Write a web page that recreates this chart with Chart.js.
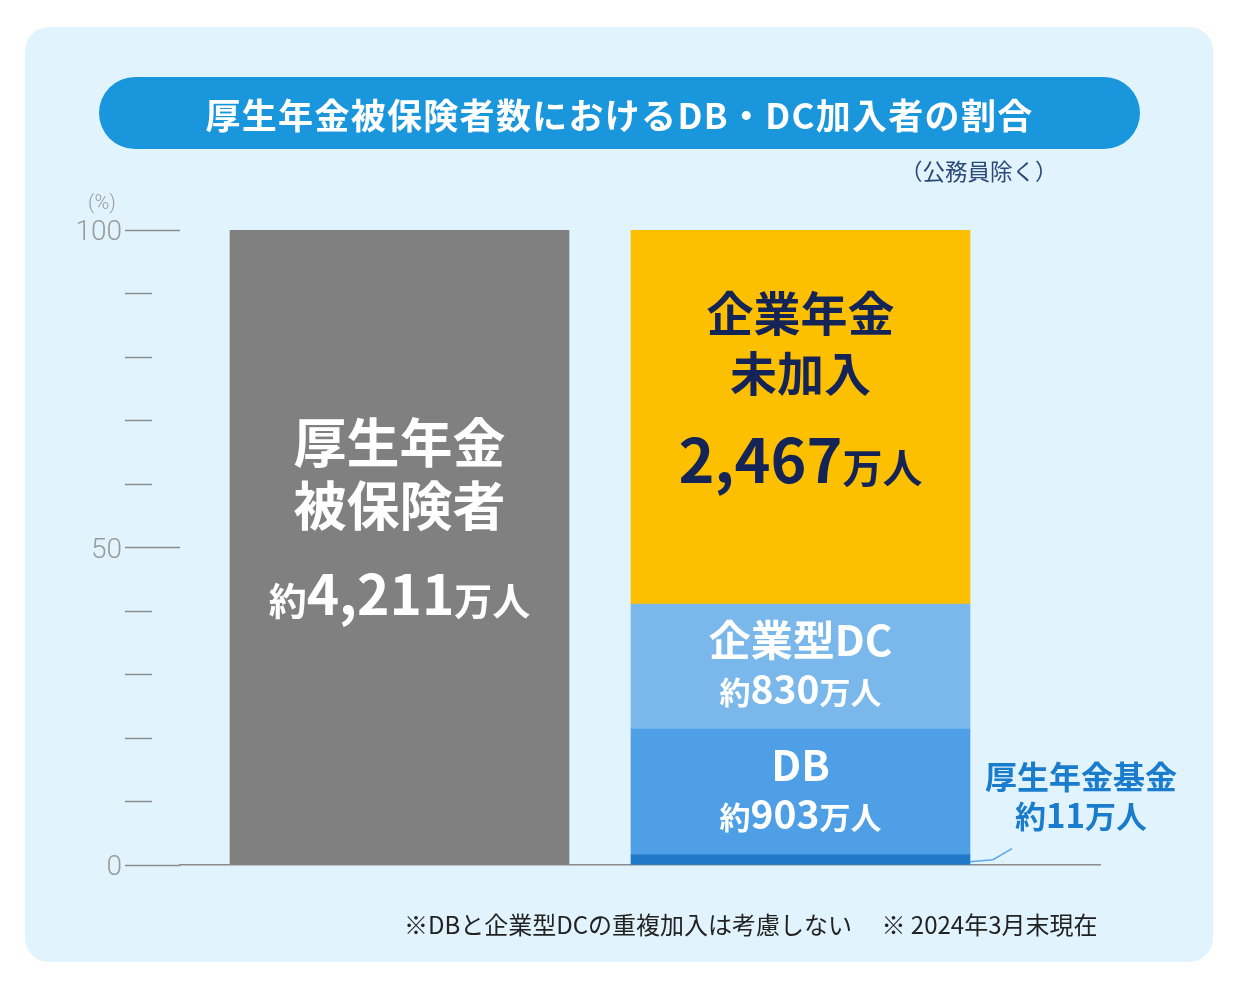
<!DOCTYPE html>
<html lang="ja">
<head>
<meta charset="utf-8">
<script src="https://cdn.jsdelivr.net/npm/chart.js@4.4.1/dist/chart.umd.min.js"></script>
<style>
  html, body { margin:0; padding:0; background:#ffffff; }
  #wrap { position:relative; width:1239px; height:990px; overflow:hidden; }
  #panel { position:absolute; left:25px; top:27px; width:1188px; height:935px; border-radius:24px; background:#e1f3fd; }
  #c { position:absolute; left:0; top:0; }
  #title { position:absolute; left:99px; top:77px; width:1041px; height:72px; border-radius:36px; background:#1a96dc;
           color:#fff; font-family:"Noto Sans CJK JP", sans-serif; font-weight:700; font-size:35px; letter-spacing:1.3px;
           display:flex; align-items:center; justify-content:center; }
  #sub { position:absolute; left:900px; top:154px; font-family:"Noto Sans CJK JP", sans-serif; font-size:22.5px; color:#2c4a78; }
  #pct { position:absolute; left:88px; top:190px; font-family:Roboto, sans-serif; font-weight:300; font-size:20px; color:#9a9a9a; }
  #note { position:absolute; left:404px; top:906px; font-family:"Noto Sans CJK JP", sans-serif; font-size:24px; color:#222; letter-spacing:0px; white-space:pre; }
</style>
</head>
<body>
<div id="wrap">
  <div id="panel"></div>
  <canvas id="c" width="1239" height="990"></canvas>
  <div id="title">厚生年金被保険者数におけるDB・DC加入者の割合</div>
  <div id="sub">（公務員除く）</div>
  <div id="pct">(%)</div>
  <div id="note">※DBと企業型DCの重複加入は考慮しない　 ※ 2024年3月末現在</div>
</div>
<script>
// ---- data ----
const categories = ['厚生年金被保険者', '企業年金加入状況'];
const insuredPct = [100];
const insuredPeople = ['4,211'];
const segmentNames = ['厚生年金基金', 'DB', '企業型DC', '企業年金未加入'];
const segmentPct = [1.6, 19.8, 19.7, 58.9];
const segmentPeople = ['11', '903', '830', '2,467'];
const yTickLabels = [0, 50, 100];

const segColors = ['#1f78c8', '#4e9fe6', '#7ab8ec', '#fdc000'];
const FONT = '"Noto Sans CJK JP", sans-serif';

const datasets = [{
  label: categories[0],
  data: [{ x: 0, y: insuredPct[0] }],
  backgroundColor: '#808080'
}];
segmentNames.forEach((n, i) => {
  datasets.push({
    label: n,
    data: [{ x: 1, y: segmentPct[i] }],
    backgroundColor: segColors[i]
  });
});

function drawMixed(ctx, parts, cx, y, color) {
  let total = 0;
  parts.forEach(p => { ctx.font = `${p.w || 700} ${p.s}px ${FONT}`; p.width = ctx.measureText(p.t).width; total += p.width; });
  let x = cx - total / 2;
  ctx.fillStyle = color;
  ctx.textAlign = 'left';
  ctx.textBaseline = 'alphabetic';
  parts.forEach(p => { ctx.font = `${p.w || 700} ${p.s}px ${FONT}`; ctx.fillText(p.t, x, y); x += p.width; });
}
function drawLine(ctx, t, size, cx, y, color) {
  drawMixed(ctx, [{ t, s: size }], cx, y, color);
}

const labelPlugin = {
  id: 'barLabels',
  afterDatasetsDraw(chart) {
    const ctx = chart.ctx;
    ctx.save();
    // insured bar
    const g = chart.getDatasetMeta(0).data[0];
    const gc = (g.y + g.base) / 2;
    drawLine(ctx, '厚生年金', 53, g.x, gc - 84, '#ffffff');
    drawLine(ctx, '被保険者', 53, g.x, gc - 21, '#ffffff');
    drawMixed(ctx, [{ t: '約', s: 38 }, { t: insuredPeople[0], s: 55 }, { t: '万人', s: 38 }], g.x, gc + 68, '#ffffff');

    // segments
    const m = i => chart.getDatasetMeta(i + 1).data[0];
    const y3 = m(3), c3 = (y3.y + y3.base) / 2;
    drawLine(ctx, '企業年金', 47, y3.x, c3 - 86, '#152456');
    drawLine(ctx, '未加入', 47, y3.x, c3 - 26, '#152456');
    drawMixed(ctx, [{ t: segmentPeople[3], s: 61 }, { t: '万人', s: 40 }], y3.x, c3 + 66, '#152456');

    const d2 = m(2), c2 = (d2.y + d2.base) / 2;
    drawLine(ctx, '企業型DC', 42, d2.x, c2 - 11, '#ffffff');
    drawMixed(ctx, [{ t: '約', s: 31 }, { t: segmentPeople[2], s: 39 }, { t: '万人', s: 31 }], d2.x, c2 + 37, '#ffffff');

    const d1 = m(1), c1 = (d1.y + d1.base) / 2;
    drawLine(ctx, 'DB', 42, d1.x, c1 - 11, '#ffffff');
    drawMixed(ctx, [{ t: '約', s: 31 }, { t: segmentPeople[1], s: 39 }, { t: '万人', s: 31 }], d1.x, c1 + 37, '#ffffff');

    // fund callout
    const f = m(0);
    const right = f.x + f.width / 2;
    const fy = (f.y + f.base) / 2;
    ctx.strokeStyle = '#5aa9e6';
    ctx.lineWidth = 1.5;
    ctx.beginPath();
    ctx.moveTo(right, fy + 2);
    ctx.lineTo(right + 23, fy);
    ctx.lineTo(right + 42, fy - 11);
    ctx.stroke();
    const lx = right + 111;
    drawLine(ctx, segmentNames[0], 32, lx, f.base - 76, '#1a7ccc');
    drawMixed(ctx, [{ t: '約', s: 31 }, { t: segmentPeople[0], s: 33 }, { t: '万人', s: 31 }], lx, f.base - 37, '#1a7ccc');
    ctx.restore();
  }
};

new Chart(document.getElementById('c'), {
  type: 'bar',
  data: { datasets },
  plugins: [labelPlugin],
  options: {
    responsive: false,
    animation: false,
    layout: { padding: { left: 50, right: 139, top: 230, bottom: 125 } },
    plugins: { legend: { display: false }, tooltip: { enabled: false } },
    datasets: { bar: { barThickness: 339, borderWidth: 0 } },
    scales: {
      x: {
        type: 'linear',
        stacked: true,
        offset: false,
        bounds: 'ticks',
        min: -0.5474,
        max: 1.7469,
        ticks: { display: false },
        grid: { display: false, drawTicks: false },
        border: { display: true, color: '#8c8c8c', width: 1.5 },
        afterFit: s => { s.height = 0; }
      },
      y: {
        stacked: true,
        min: 0,
        max: 100,
        afterFit: s => { s.width = 130; },
        ticks: {
          stepSize: 10,
          padding: 3,
          labelOffset: 3,
          color: '#9a9a9a',
          font: { family: 'Roboto, sans-serif', size: 28, weight: 300 },
          callback: v => (yTickLabels.includes(v) ? String(v) : '')
        },
        grid: {
          drawOnChartArea: false,
          drawTicks: true,
          tickLength: 55,
          tickWidth: 1.5,
          tickColor: '#8c8c8c',
          tickBorderDash: ctx => (yTickLabels.includes(ctx.tick && ctx.tick.value) ? [] : [27, 100])
        },
        border: { display: false }
      }
    }
  }
});
</script>
</body>
</html>
